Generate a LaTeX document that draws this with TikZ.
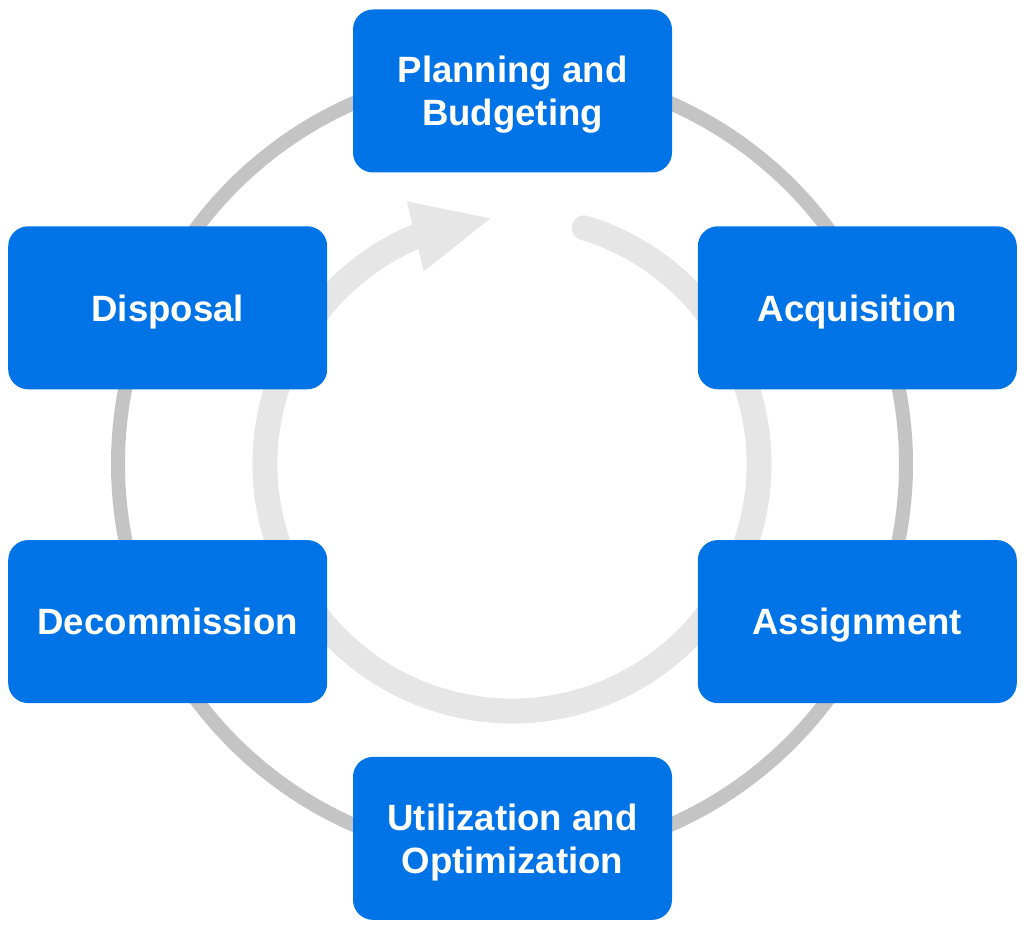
\documentclass[tikz,border=0pt]{standalone}
\usepackage{fontspec}
\setmainfont{Liberation Sans}
\usetikzlibrary{positioning, arrows.meta, bending}
\definecolor{stageblue}{HTML}{0073E6}
\definecolor{ringgray}{HTML}{C4C4C4}
\definecolor{flowgray}{HTML}{E6E6E6}

\begin{document}
\begin{tikzpicture}[x = 0.5pt, y = 0.5pt]

  \tikzstyle{stage}=[rounded corners=10pt, fill=stageblue, text=white, align=center,
    font=\bfseries\fontsize{18.3}{21.5}\selectfont, text depth=-2pt,
    minimum width=159.5pt, minimum height=81.5pt, inner sep=0pt]
  \tikzstyle{ring}=[ringgray, line width=7pt]
  \tikzstyle{flow}=[flowgray, line width=12.5pt, line cap=round]

  \useasboundingbox (0, 0) rectangle (1024, 926);

  \coordinate (mid) at (512, 462);
  \draw [ring] (mid) circle (394);
  \draw [flow, -{Triangle[width=32.75pt, length=40pt]}]
    (mid) ++(73:247) arc [start angle=73, end angle=-265.6, radius=247];

  \node [stage] (planning) at (512.5, 835) {Planning and\\Budgeting};

  \node [stage, below right = 26.5pt and 12.5pt of planning] (acquisition) {Acquisition};
  \node [stage, below left = 26.5pt and 12.5pt of planning] (disposal) {Disposal};
  \node [stage, below = 75pt of acquisition] (assignment) {Assignment};
  \node [stage, below = 75pt of disposal] (decommission) {Decommission};
  \node [stage, below left = 26.5pt and 12.5pt of assignment] (utilization) {Utilization and\\Optimization};
\end{tikzpicture}
\end{document}
